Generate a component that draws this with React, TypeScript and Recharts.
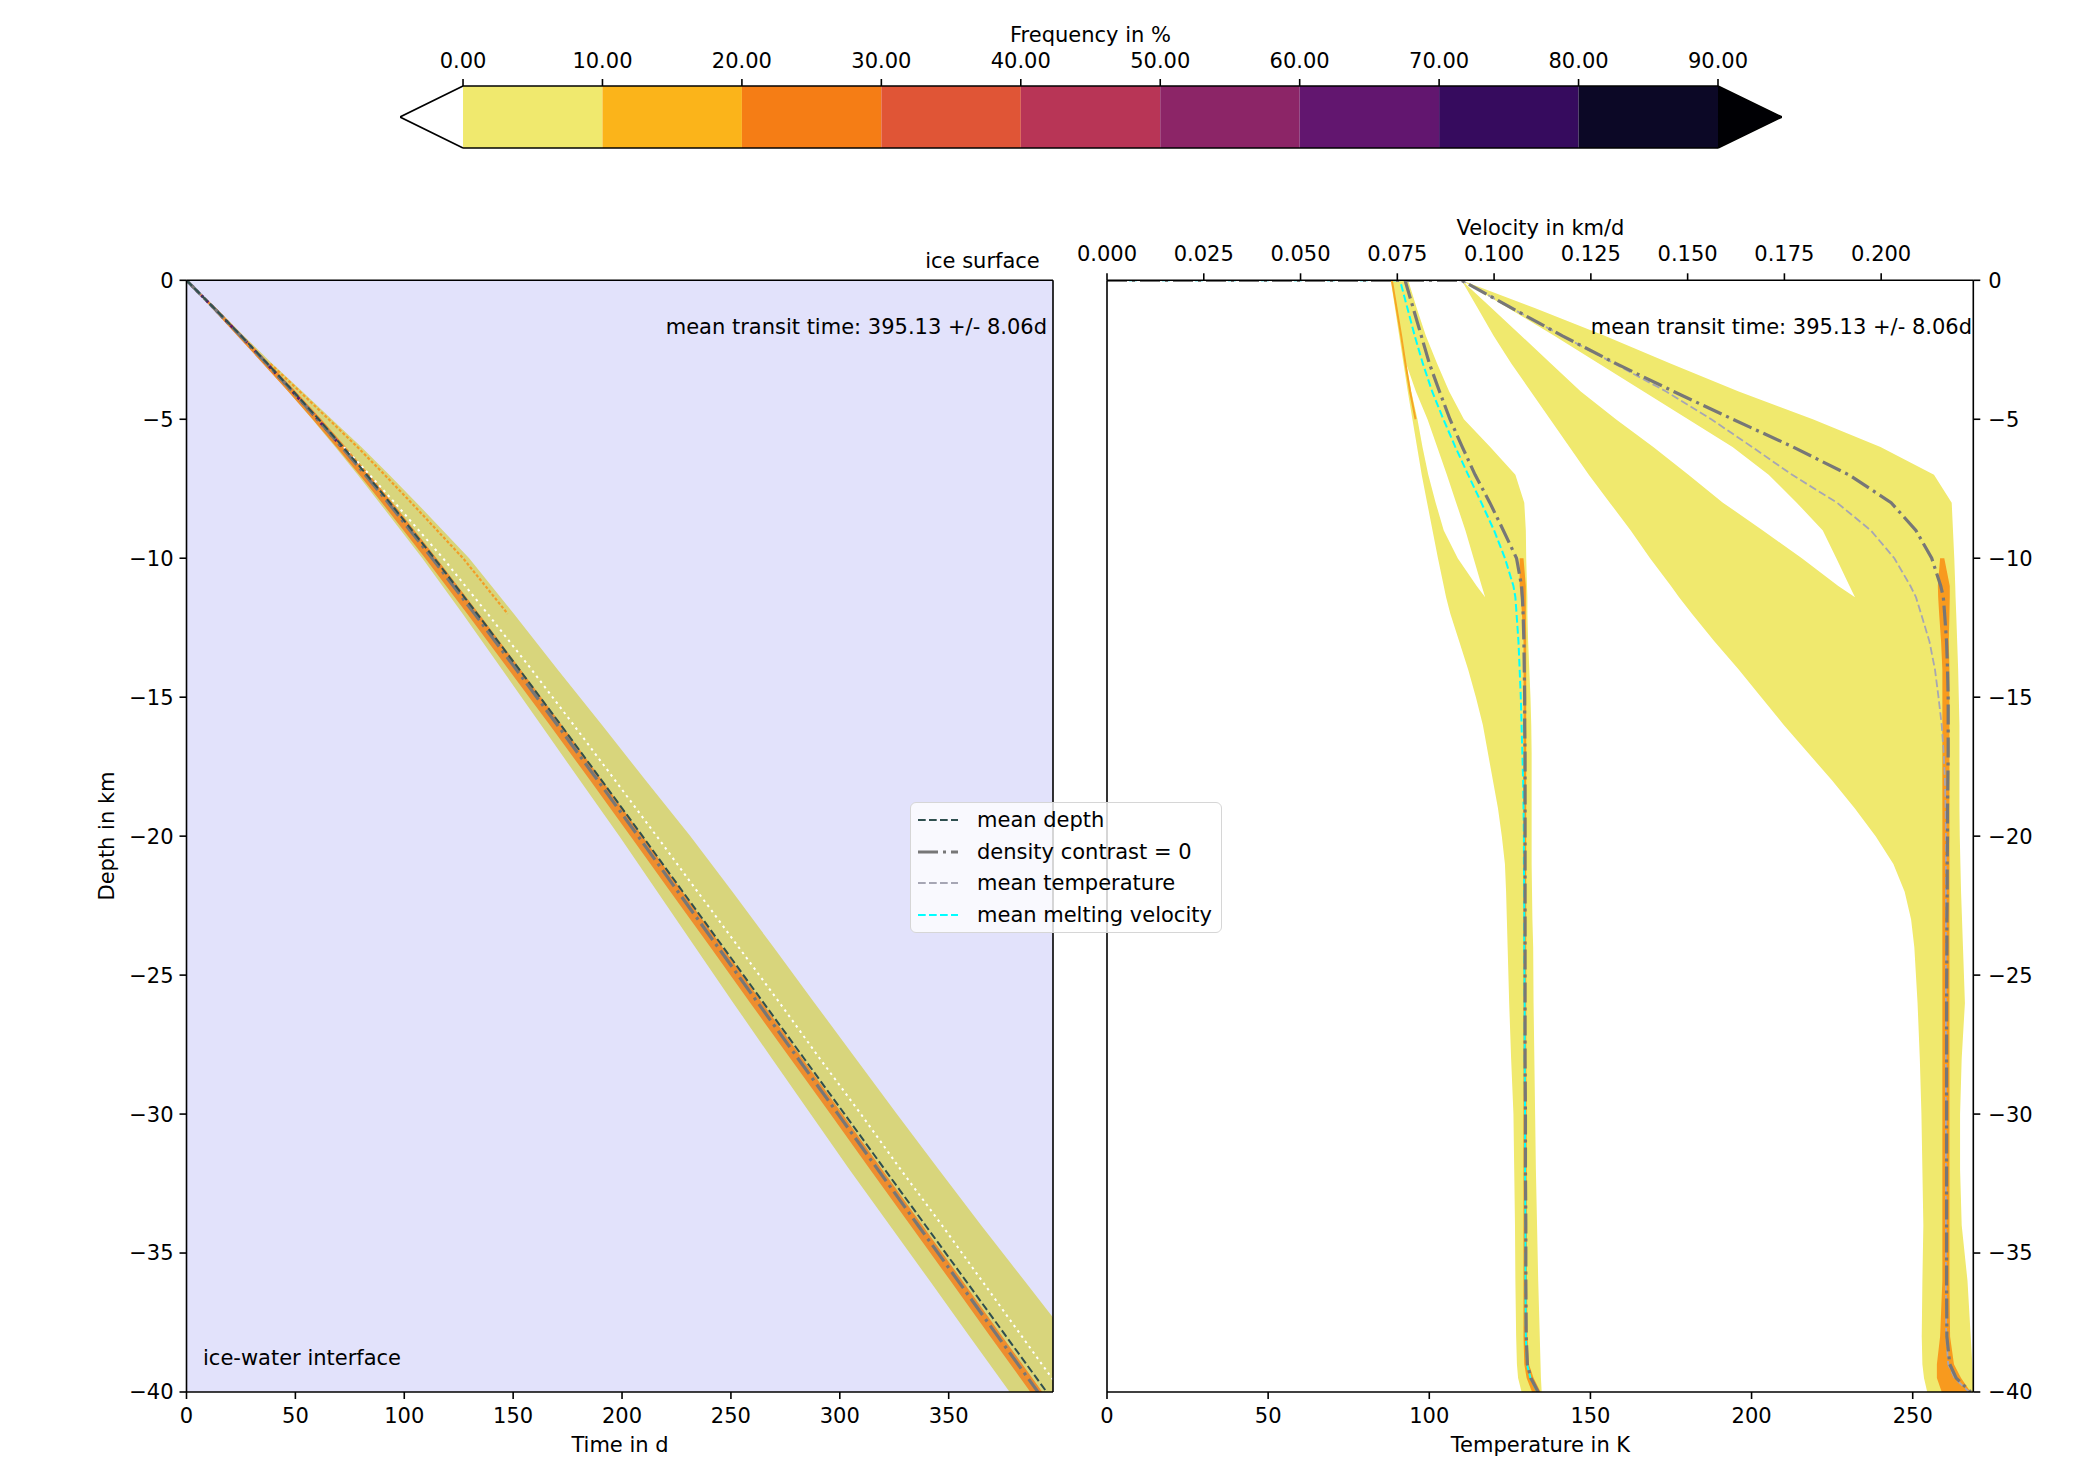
import React from 'react'
import {
  ComposedChart,
  Area,
  Line,
  XAxis,
  YAxis,
  CartesianGrid,
  ReferenceLine,
} from 'recharts'

const FONT = '"DejaVu Sans", sans-serif'
const FS = 21
const INK = '#000'
const YELLOW = '#f0e96e'
const KHAKI = '#d8d57c'
const LAVENDER = '#e2e2fb'

// colour bar
const freqLevels = [0, 10, 20, 30, 40, 50, 60, 70, 80, 90]
const freqColors = ['#f0e96e', '#fbb41a', '#f57d15', '#e05536', '#b83556', '#8c2567', '#62166f', '#360b5e', '#0c0826']
const barRows = [0, 0.5, 1]
const underTip = [0, -4.52, 0]
const overTip = [90, 94.59, 90]

// left panel: time (d) against depth (km)
const depthL = [0, -1, -2, -3, -4, -5, -6, -7, -8, -10, -12, -14, -16, -18, -20, -22, -24, -26, -28, -30, -32, -34, -36, -38, -40]
const timeCore = [0, 12.6, 24.9, 36.9, 48.7, 60.2, 71.3, 82.1, 92.6, 112.8, 132.3, 151.4, 170.3, 188.9, 207.4, 225.7, 244.1, 262.4, 280.8, 299.2, 317.5, 335.9, 354.3, 372.6, 391]
const timeMeanDepth = [0, 12.7, 25.1, 37.2, 49.1, 60.7, 71.9, 82.8, 93.4, 113.8, 133.5, 152.8, 171.9, 190.7, 209.4, 227.9, 246.5, 265.0, 283.6, 302.2, 320.7, 339.3, 357.9, 376.4, 395.0]
const timeLo = [0, 12.1, 23.9, 35.4, 46.7, 57.7, 68.3, 78.6, 88.6, 108.3, 126.8, 144.9, 162.8, 180.7, 198.8, 216.2, 233.6, 251.1, 268.8, 286.6, 304.5, 322.9, 341.3, 359.6, 378]
const timeHi = [0, 13.6, 26.4, 39.4, 53.2, 66.7, 80.3, 93.1, 105.6, 129.8, 150.3, 170.4, 190.8, 210.9, 231.4, 250.7, 269.6, 288.4, 307.3, 326.2, 345.5, 364.9, 384.8, 404.6, 424]
const timeHotLo = [0, 11.6, 23.4, 35.1, 46.7, 57.9, 68.8, 79.4, 89.7, 109.6, 128.9, 147.9, 166.8, 185.4, 203.9, 222.2, 240.6, 258.9, 277.3, 295.7, 314, 332.4, 350.8, 369.1, 387.5]
const timeHotHi = [0, 13.6, 26, 38.2, 50.2, 61.9, 73.1, 84, 94.6, 114.8, 134.3, 153.4, 172.3, 190.9, 209.4, 227.7, 246.1, 264.4, 282.8, 301.2, 319.5, 337.9, 356.3, 374.6, 393]
const timeWhite = [null, null, null, null, null, null, 72.3, 84.1, 95.6, 117.8, 138.3, 158.4, 177.8, 196.9, 215.9, 234.7, 253.6, 272.4, 290.8, 309.7, 328, 346.9, 365.3, 383.6, 402]
const timeEdge = [null, null, null, 38.5, 52, 65.3, 78.5, 91, 103.2, 127, 147.5, null, null, null, null, null, null, null, null, null, null, null, null, null, null]

// right panel: velocity (km/d) and temperature (K) against depth (km)
const depthR = [0, 0, -1, -2, -3, -4, -5, -6, -7, -8, -9, -10, -11, -11.4, -12, -13, -14, -15, -16, -17, -18, -19, -20, -21, -22, -23, -24, -26, -28, -30, -32, -34, -36, -38, -39, -39.5, -40]
const velCore = [0, 0.0770, 0.0791, 0.0812, 0.0833, 0.0859, 0.0886, 0.0918, 0.0951, 0.0989, 0.1024, 0.1058, 0.1071, 0.1073, 0.1075, 0.1077, 0.1078, 0.1079, 0.1079, 0.1080, 0.1080, 0.1080, 0.1080, 0.1080, 0.1080, 0.1080, 0.1080, 0.1080, 0.1080, 0.1081, 0.1081, 0.1082, 0.1082, 0.1083, 0.1086, 0.1095, 0.1114]
const velMelt = [0, 0.0757, 0.0776, 0.0795, 0.0816, 0.0840, 0.0869, 0.0900, 0.0933, 0.0967, 0.1000, 0.1028, 0.1050, 0.1055, 0.1058, 0.1063, 0.1066, 0.1069, 0.1071, 0.1073, 0.1075, 0.1076, 0.1077, 0.1077, 0.1078, 0.1078, 0.1078, 0.1079, 0.1079, 0.1080, 0.1080, 0.1081, 0.1081, 0.1082, 0.1085, 0.1094, 0.1112]
const velLo = [null, 0.0733, 0.0744, 0.0755, 0.0766, 0.0777, 0.0789, 0.0801, 0.0813, 0.0827, 0.0841, 0.0855, 0.0870, 0.0876, 0.0887, 0.0910, 0.0933, 0.0953, 0.0971, 0.0984, 0.0997, 0.1010, 0.1020, 0.1028, 0.1031, 0.1033, 0.1035, 0.1039, 0.1044, 0.1050, 0.1052, 0.1054, 0.1055, 0.1057, 0.1059, 0.1062, 0.1071]
const velHi = [null, 0.0778, 0.0800, 0.0824, 0.0853, 0.0884, 0.0922, 0.0990, 0.1055, 0.1078, 0.1082, 0.1083, 0.1085, 0.1086, 0.1086, 0.1088, 0.1091, 0.1094, 0.1096, 0.1097, 0.1097, 0.1097, 0.1097, 0.1097, 0.1098, 0.1099, 0.1101, 0.1102, 0.1104, 0.1106, 0.1108, 0.1111, 0.1114, 0.1118, 0.1120, 0.1121, 0.1123]
const velGapLo = [null, null, null, null, 0.0773, 0.0786, 0.0802, 0.0815, 0.0830, 0.0849, 0.0870, 0.0906, 0.0955, 0.0977, null, null, null, null, null, null, null, null, null, null, null, null, null, null, null, null, null, null, null, null, null, null, null]
const velGapHi = [null, null, null, null, 0.0773, 0.0798, 0.0828, 0.0853, 0.0878, 0.0902, 0.0926, 0.0947, 0.0968, 0.0977, null, null, null, null, null, null, null, null, null, null, null, null, null, null, null, null, null, null, null, null, null, null, null]
const velHotLo = [null, null, null, null, null, null, null, null, null, null, null, 0.1066, 0.1066, 0.1069, 0.1072, 0.1076, 0.1076, 0.1076, 0.1076, 0.1076, 0.1076, 0.1076, 0.1076, 0.1076, 0.1076, 0.1076, 0.1076, 0.1076, 0.1076, 0.1076, 0.1076, 0.1076, 0.1076, 0.1076, 0.1078, 0.1084, 0.1098]
const velHotHi = [null, null, null, null, null, null, null, null, null, null, null, 0.1076, 0.1082, 0.1082, 0.1082, 0.1083, 0.1083, 0.1083, 0.1083, 0.1083, 0.1083, 0.1083, 0.1083, 0.1083, 0.1083, 0.1083, 0.1083, 0.1083, 0.1083, 0.1084, 0.1084, 0.1085, 0.1085, 0.1086, 0.1090, 0.1102, 0.1120]
const velEdge = [null, 0.0736, 0.0748, 0.0760, 0.0771, 0.0783, 0.0797, null, null, null, null, null, null, null, null, null, null, null, null, null, null, null, null, null, null, null, null, null, null, null, null, null, null, null, null, null, null]

const tempCore = [0, 110, 125.6, 141.3, 158.0, 175.8, 194.2, 212.9, 230.2, 243.3, 251.0, 255.9, 258.7, 259.5, 259.9, 260.5, 260.8, 261.0, 261.0, 261.0, 260.9, 260.8, 260.8, 260.7, 260.7, 260.6, 260.6, 260.5, 260.5, 260.5, 260.5, 260.5, 260.5, 260.6, 261.5, 263.5, 268.0]
const tempMean = [0, 110, 125.5, 141.3, 157.5, 173.5, 187.5, 200.2, 212.6, 226.5, 237.0, 244.3, 249.3, 251.0, 252.6, 255.2, 256.9, 258.0, 259.0, 259.6, 260.0, 260.2, 260.3, 260.3, 260.3, 260.3, 260.3, 260.3, 260.3, 260.3, 260.3, 260.3, 260.3, 260.4, 261.0, 263.0, 267.5]
const tempLo = [null, 110, 115, 120, 125.5, 131.5, 137.5, 143.5, 149.5, 156, 162.5, 168.5, 175, 177.5, 181.5, 188.5, 196, 203, 210, 217.5, 225, 232, 238.5, 244, 247.5, 249.5, 250.5, 251.5, 252.2, 252.7, 253.0, 253.3, 253.0, 252.8, 253.0, 253.5, 254.5]
const tempHi = [null, 110, 132.7, 154.6, 175, 196, 219, 240, 256.6, 262.1, 262.5, 262.9, 263.2, 263.3, 263.5, 263.8, 264.1, 264.3, 264.5, 264.5, 264.5, 264.5, 264.6, 264.8, 265.0, 265.3, 265.6, 266.2, 265.2, 264.7, 264.7, 265.2, 267.0, 268.0, 268.5, 268.7, 268.8]
const tempGapLo = [null, 110, 119.3, 128.6, 137.8, 147, 157.9, 169.5, 180.4, 191.1, 203.5, 215.6, 226.9, 232.1, null, null, null, null, null, null, null, null, null, null, null, null, null, null, null, null, null, null, null, null, null, null, null]
const tempGapHi = [null, 110, 124.5, 138.9, 152.7, 166.5, 180.3, 194.1, 205.3, 214, 222.1, 226.3, 230.4, 232.1, null, null, null, null, null, null, null, null, null, null, null, null, null, null, null, null, null, null, null, null, null, null, null]
const tempHotLo = [null, null, null, null, null, null, null, null, null, null, null, 258.5, 257.8, 257.9, 258.2, 258.8, 259.2, 259.2, 259.2, 259.2, 259.2, 259.2, 259.2, 259.2, 259.2, 259.2, 259.2, 259.2, 259.2, 259.2, 259.2, 259.2, 259.2, 258.5, 257.5, 257.5, 259.0]
const tempHotHi = [null, null, null, null, null, null, null, null, null, null, null, 259.8, 261.5, 261.5, 261.4, 261.2, 261.4, 261.4, 261.4, 261.4, 261.4, 261.4, 261.4, 261.4, 261.4, 261.4, 261.4, 261.4, 261.4, 261.4, 261.4, 261.4, 261.4, 261.6, 262.8, 265.0, 268.0]

// ticks
const timeTicks = [0, 50, 100, 150, 200, 250, 300, 350]
const depthTicks = [0, -5, -10, -15, -20, -25, -30, -35, -40]
const velTicks = [0, 0.025, 0.05, 0.075, 0.1, 0.125, 0.15, 0.175, 0.2]
const tempTicks = [0, 50, 100, 150, 200, 250]

const legendItems = [
  { label: 'mean depth', color: '#2f4f4f', dash: '7.7 3.3', width: 2 },
  { label: 'density contrast = 0', color: '#777777', dash: '20 5 3 5', width: 3.2 },
  { label: 'mean temperature', color: '#a6a6b4', dash: '7.7 3.3', width: 1.8 },
  { label: 'mean melting velocity', color: '#00ffff', dash: '7.7 3.3', width: 2 },
]

const fmtDepth = (v: number) => (v < 0 ? '\u2212' + Math.abs(v) : String(v))
const pair = (lo: (number | null)[], hi: (number | null)[], i: number) =>
  lo[i] == null || hi[i] == null ? null : [lo[i], hi[i]]

const tickStyle = { fill: INK, fontSize: FS, fontFamily: FONT }
const lineStyle = { stroke: INK, strokeWidth: 1.6 }
const plain = { dot: false as const, activeDot: false as const, isAnimationActive: false, type: 'linear' as const }

const TXT: React.CSSProperties = {
  position: 'absolute',
  fontFamily: FONT,
  fontSize: FS,
  lineHeight: 1,
  color: INK,
  whiteSpace: 'nowrap',
}

function Txt({ x, y, anchor = 'middle', rotate = false, children }: any) {
  const tx = anchor === 'start' ? '0' : anchor === 'end' ? '-100%' : '-50%'
  return (
    <div style={{ ...TXT, left: x, top: y, transform: `translate(${tx}, -50%)${rotate ? ' rotate(-90deg)' : ''}` }}>
      {children}
    </div>
  )
}

function ColorBar() {
  const data = barRows.map((y, i) => {
    const row: any = { y, under: [underTip[i], 0], over: [90, overTip[i]], underEdge: underTip[i], overEdge: overTip[i] }
    freqColors.forEach((_, k) => {
      row['b' + k] = [freqLevels[k], freqLevels[k + 1]]
    })
    return row
  })
  return (
    <ComposedChart layout="vertical" width={2079} height={170} data={data} margin={{ top: 56, right: 297, bottom: 22, left: 400 }}>
      <XAxis
        type="number"
        orientation="top"
        domain={[-4.52, 94.59]}
        allowDataOverflow
        ticks={freqLevels}
        interval={0}
        tickFormatter={(v: number) => v.toFixed(2)}
        height={30}
        tickSize={7}
        tickMargin={11}
        axisLine={false}
        tickLine={lineStyle}
        tick={tickStyle}
      />
      <YAxis type="number" dataKey="y" domain={[0, 1]} hide />
      {freqColors.map((c, k) => (
        <Area key={c} dataKey={'b' + k} stroke="none" fill={c} fillOpacity={1} {...plain} />
      ))}
      <Area dataKey="under" stroke="none" fill="#ffffff" fillOpacity={1} {...plain} />
      <Area dataKey="over" stroke="none" fill="#000004" fillOpacity={1} {...plain} />
      <Line dataKey="underEdge" stroke={INK} strokeWidth={1.6} {...plain} />
      <Line dataKey="overEdge" stroke={INK} strokeWidth={1.6} {...plain} />
      <ReferenceLine segment={[{ x: 0, y: 1 }, { x: 90, y: 1 }]} stroke={INK} strokeWidth={1.6} />
      <ReferenceLine segment={[{ x: 0, y: 0 }, { x: 90, y: 0 }]} stroke={INK} strokeWidth={1.6} />
    </ComposedChart>
  )
}

function TimePanel() {
  const data = depthL.map((d, i) => ({
    depth: d,
    band: [timeLo[i], timeHi[i]],
    hot: [timeHotLo[i], timeHotHi[i]],
    core: timeCore[i],
    top: d >= -6 ? timeCore[i] : null,
    meanDepth: timeMeanDepth[i],
    white: timeWhite[i],
    edge: timeEdge[i],
  }))
  return (
    <ComposedChart layout="vertical" width={1080} height={1264} data={data} margin={{ top: 80.3, right: 27, bottom: 32, left: 106.5 }}>
      <CartesianGrid fill={LAVENDER} horizontal={false} vertical={false} stroke="none" />
      <XAxis
        type="number"
        domain={[0, 397.9]}
        allowDataOverflow
        ticks={timeTicks}
        interval={0}
        height={40}
        tickSize={7}
        tickMargin={9}
        axisLine={lineStyle}
        tickLine={lineStyle}
        tick={tickStyle}
      />
      <YAxis
        type="number"
        dataKey="depth"
        domain={[-40, 0]}
        reversed
        allowDataOverflow
        ticks={depthTicks}
        interval={0}
        width={80}
        tickSize={7}
        tickMargin={6}
        tickFormatter={fmtDepth}
        axisLine={lineStyle}
        tickLine={lineStyle}
        tick={tickStyle}
      />
      <Area dataKey="band" stroke="none" fill={KHAKI} fillOpacity={1} {...plain} />
      <Area dataKey="hot" stroke="none" fill="#ee8d2e" fillOpacity={1} {...plain} />
      <Line dataKey="edge" stroke="#f39c26" strokeWidth={2.2} strokeDasharray="3 2" {...plain} />
      <Line dataKey="white" stroke="#ffffff" strokeWidth={2} strokeDasharray="2.5 4" {...plain} />
      <Line dataKey="top" stroke="#5c1a6b" strokeWidth={3} strokeDasharray="3 4" {...plain} />
      <Line dataKey="core" stroke="#777777" strokeWidth={3.2} strokeDasharray="20 5 3 5" {...plain} />
      <Line dataKey="meanDepth" stroke="#2f4f4f" strokeWidth={2} strokeDasharray="7.7 3.3" {...plain} />
      <ReferenceLine y={0} stroke={INK} strokeWidth={1.6} />
      <ReferenceLine x={397.9} stroke={INK} strokeWidth={1.6} />
    </ComposedChart>
  )
}

function ProfilePanel() {
  const data = depthR.map((d, i) => ({
    depth: d,
    velBand: pair(velLo, velHi, i),
    velGap: pair(velGapLo, velGapHi, i),
    velHot: pair(velHotLo, velHotHi, i),
    velCore: velCore[i],
    velMelt: velMelt[i],
    velEdge: velEdge[i],
    tempBand: pair(tempLo, tempHi, i),
    tempGap: pair(tempGapLo, tempGapHi, i),
    tempHot: pair(tempHotLo, tempHotHi, i),
    tempCore: tempCore[i],
    tempMean: tempMean[i],
  }))
  return (
    <ComposedChart layout="vertical" width={1049} height={1314} data={data} margin={{ top: 80.3, right: 35.7, bottom: 32, left: 77 }}>
      <XAxis
        xAxisId="v"
        type="number"
        orientation="top"
        domain={[0, 0.2238]}
        allowDataOverflow
        ticks={velTicks}
        interval={0}
        tickFormatter={(v: number) => v.toFixed(3)}
        height={50}
        tickSize={7}
        tickMargin={12.5}
        axisLine={lineStyle}
        tickLine={lineStyle}
        tick={tickStyle}
      />
      <XAxis
        xAxisId="T"
        type="number"
        domain={[0, 268.8]}
        allowDataOverflow
        ticks={tempTicks}
        interval={0}
        height={40}
        tickSize={7}
        tickMargin={9}
        axisLine={lineStyle}
        tickLine={lineStyle}
        tick={tickStyle}
      />
      <YAxis
        type="number"
        dataKey="depth"
        orientation="right"
        domain={[-40, 0]}
        reversed
        allowDataOverflow
        ticks={depthTicks}
        interval={0}
        width={70}
        tickSize={7}
        tickMargin={8}
        tickFormatter={fmtDepth}
        axisLine={lineStyle}
        tickLine={lineStyle}
        tick={tickStyle}
      />
      <Area xAxisId="T" dataKey="tempBand" stroke="none" fill={YELLOW} fillOpacity={1} {...plain} />
      <Area xAxisId="v" dataKey="velBand" stroke="none" fill={YELLOW} fillOpacity={1} {...plain} />
      <Area xAxisId="T" dataKey="tempGap" stroke="none" fill="#ffffff" fillOpacity={1} {...plain} />
      <Area xAxisId="v" dataKey="velGap" stroke="none" fill="#ffffff" fillOpacity={1} {...plain} />
      <Area xAxisId="T" dataKey="tempHot" stroke="none" fill="#f89a1e" fillOpacity={1} {...plain} />
      <Area xAxisId="v" dataKey="velHot" stroke="none" fill="#f89a1e" fillOpacity={1} {...plain} />
      <Line xAxisId="v" dataKey="velEdge" stroke="#f6a623" strokeWidth={2} {...plain} />
      <Line xAxisId="T" dataKey="tempMean" stroke="#a6a6b4" strokeWidth={1.8} strokeDasharray="7.7 3.3" {...plain} />
      <Line xAxisId="v" dataKey="velMelt" stroke="#00ffff" strokeWidth={2} strokeDasharray="7.7 3.3" {...plain} />
      <Line xAxisId="T" dataKey="tempCore" stroke="#777777" strokeWidth={3.2} strokeDasharray="20 5 3 5" {...plain} />
      <Line xAxisId="v" dataKey="velCore" stroke="#777777" strokeWidth={3.2} strokeDasharray="20 5 3 5" {...plain} />
      <ReferenceLine xAxisId="T" x={0} stroke={INK} strokeWidth={1.6} />
    </ComposedChart>
  )
}

function LegendBox() {
  return (
    <div
      style={{
        position: 'absolute',
        left: 910,
        top: 802,
        width: 312,
        height: 131,
        boxSizing: 'border-box',
        background: 'rgba(255,255,255,0.8)',
        border: '1.5px solid #d6d6d6',
        borderRadius: 6,
        zIndex: 5,
      }}
    >
      {legendItems.map((it, i) => (
        <div key={it.label}>
          <svg style={{ position: 'absolute', left: 6, top: 17.4 + i * 31.4 - 6 }} width={42} height={12}>
            <line x1={1} y1={6} x2={41} y2={6} stroke={it.color} strokeWidth={it.width} strokeDasharray={it.dash} />
          </svg>
          <Txt x={66} y={17.4 + i * 31.4} anchor="start">
            {it.label}
          </Txt>
        </div>
      ))}
    </div>
  )
}

export default function App() {
  return (
    <div style={{ position: 'absolute', left: 0, top: 0, width: 2079, height: 1464, background: '#fff', overflow: 'hidden' }}>
      <div style={{ position: 'absolute', left: 0, top: 0 }}>
        <ColorBar />
      </div>
      <div style={{ position: 'absolute', left: 0, top: 200 }}>
        <TimePanel />
      </div>
      <div style={{ position: 'absolute', left: 1030, top: 150 }}>
        <ProfilePanel />
      </div>

      <Txt x={1090.5} y={34.5}>Frequency in %</Txt>
      <Txt x={1039.8} y={261} anchor="end">ice surface</Txt>
      <Txt x={1047} y={327} anchor="end">mean transit time: 395.13 +/- 8.06d</Txt>
      <Txt x={203} y={1358} anchor="start">ice-water interface</Txt>
      <Txt x={107} y={836} rotate>Depth in km</Txt>
      <Txt x={620} y={1445}>Time in d</Txt>
      <Txt x={1540.5} y={228}>Velocity in km/d</Txt>
      <Txt x={1972} y={327} anchor="end">mean transit time: 395.13 +/- 8.06d</Txt>
      <Txt x={1540.5} y={1445}>Temperature in K</Txt>

      <LegendBox />
    </div>
  )
}
